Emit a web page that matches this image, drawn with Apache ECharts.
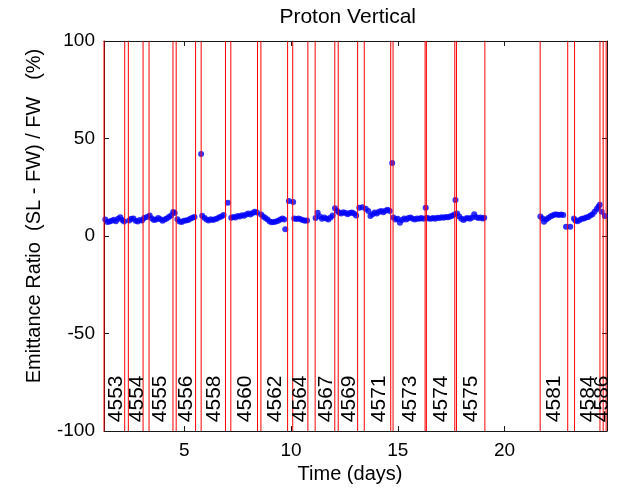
<!DOCTYPE html>
<html>
<head>
<meta charset="utf-8">
<script src="https://cdn.jsdelivr.net/npm/echarts@6/dist/echarts.min.js"></script>
<style>
html,body{margin:0;padding:0;background:#fff;}
#chart{width:617px;height:491px;}
</style>
</head>
<body>
<div id="chart"></div>
<script>
// ---- data ----
const timeDays = [
  1.30,1.40,1.50,1.60,1.70,1.80,1.90,2.00,2.10,2.18,
  2.42,2.52,2.62,2.72,2.82,2.92,3.02,3.12,3.25,
  3.38,3.48,3.58,3.68,3.78,3.88,3.98,4.08,4.18,4.28,4.38,4.48,4.55,
  4.68,4.78,4.88,4.98,5.08,5.18,5.28,5.38,5.48,
  5.79,5.84,5.94,6.04,6.14,6.24,6.34,6.44,6.54,6.64,6.74,6.84,7.04,
  7.20,7.30,7.40,7.50,7.60,7.70,7.80,7.90,8.00,8.10,8.20,8.30,8.40,
  8.60,8.70,8.80,8.90,9.00,9.10,9.20,9.30,9.40,9.50,9.60,9.68,9.73,9.90,10.10,
  10.15,10.25,10.35,10.45,10.55,10.65,10.75,
  11.15,11.25,11.35,11.45,11.55,11.65,11.75,11.85,11.95,12.06,
  12.15,12.25,12.35,12.45,12.55,12.65,12.75,12.85,12.95,13.05,
  13.20,13.35,13.50,13.62,13.72,13.82,13.92,14.02,14.12,14.22,14.32,14.42,14.52,14.62,14.74,
  14.80,14.90,15.00,15.10,15.20,15.30,15.40,15.50,15.60,15.70,15.80,15.90,16.00,16.10,16.20,16.31,
  16.36,16.45,16.55,16.65,16.75,16.85,16.95,17.05,17.15,17.25,17.35,17.45,17.55,17.65,17.70,
  17.78,17.88,17.98,18.08,18.18,18.28,18.38,18.48,18.58,18.68,18.78,18.88,18.98,19.05,
  21.68,21.78,21.85,21.95,22.05,22.15,22.25,22.35,22.45,22.55,22.65,22.75,22.88,23.08,
  23.25,23.32,23.42,23.52,23.62,23.72,23.82,23.92,24.02,24.12,24.22,24.32,24.40,24.46,24.55,24.70
];
const ratioPct = [
  8.5,7.2,7.5,7.8,8.3,7.6,8.8,9.6,8.2,7.4,
  8.0,8.8,9.0,7.8,7.5,8.2,8.0,9.2,9.8,
  10.5,9.0,8.2,8.5,9.2,8.6,7.8,8.4,9.0,9.8,10.5,12.3,11.8,
  8.6,7.5,7.2,7.8,8.0,8.2,8.8,9.4,9.8,
  42.0,10.4,9.3,8.5,8.0,8.6,8.2,8.6,9.0,9.6,10.0,10.8,17.0,
  9.3,9.8,9.5,10.2,10.0,10.6,10.4,11.0,11.5,11.0,11.8,12.5,12.0,
  11.0,10.0,9.2,8.4,7.5,7.0,7.2,7.4,7.8,8.5,9.0,8.5,3.4,18.0,17.4,
  9.0,8.7,9.0,8.6,8.2,7.8,8.0,
  9.2,11.9,10.0,8.8,9.5,9.0,8.5,9.5,10.5,14.2,
  13.0,12.0,11.5,12.2,11.8,11.2,11.8,12.0,11.5,10.5,
  14.5,14.8,14.0,12.8,10.2,11.2,12.0,11.5,12.4,12.8,12.2,13.0,13.5,12.8,37.4,
  9.5,8.5,8.8,6.8,8.2,9.0,8.4,9.2,9.5,8.8,8.5,9.0,8.8,9.2,8.9,14.5,
  9.3,9.0,8.8,9.2,8.9,9.4,9.2,9.6,9.4,9.8,9.6,10.0,10.4,11.0,18.4,
  11.5,10.0,8.8,8.2,9.0,9.2,8.8,9.5,11.2,9.6,9.2,9.5,9.0,9.3,
  10.0,9.0,7.3,8.5,9.2,10.0,10.5,11.0,11.0,10.8,11.0,10.8,4.8,4.8,
  9.0,8.0,7.6,8.2,8.8,9.0,9.5,9.8,10.5,11.2,12.5,13.8,15.0,16.0,12.5,10.2
];
// fill boundary times (days) - red vertical lines
const fillEdges = [1.24,2.21,2.38,3.07,3.35,4.47,4.62,5.53,5.79,6.93,7.18,8.43,8.59,9.84,
  10.08,10.79,11.13,12.05,12.21,13.12,13.43,14.67,14.78,16.28,16.34,17.67,17.75,19.08,
  21.67,22.96,23.28,24.47,24.62,24.76];
// fill numbers and where their labels sit (days)
const fillNumbers = [4553,4554,4555,4556,4558,4560,4562,4564,4567,4569,4571,4573,4574,4575,4581,4584,4586];
const labelDays   = [1.80,2.78,3.89,5.08,6.39,7.84,9.28,10.45,11.64,12.71,14.13,15.58,17.05,18.43,22.34,23.92,24.56];
const xTicks = [5,10,15,20];
const xMin = 1.24, xMax = 24.8;
const yMin = -100, yMax = 100, yStep = 50;

const FONT = '"Liberation Sans", Arial, Helvetica, sans-serif';
const chart = echarts.init(document.getElementById('chart'), null, {renderer:'canvas'});
const axisLineStyle = {color:'#1a1a1a', width:1};
const option = {
  animation:false,
  backgroundColor:'#ffffff',
  grid:{left:104, right:10, top:41, bottom:60},
  xAxis:[
    {type:'value', min:xMin, max:xMax, position:'bottom',
     axisLine:{show:true, onZero:false, lineStyle:axisLineStyle},
     axisTick:{show:true, inside:true, length:5, customValues:xTicks, lineStyle:axisLineStyle},
     axisLabel:{show:true, customValues:xTicks, color:'#000', fontFamily:FONT, fontSize:19, margin:10},
     splitLine:{show:false}},
    {type:'value', min:xMin, max:xMax, position:'top',
     axisLine:{show:true, onZero:false, lineStyle:axisLineStyle},
     axisTick:{show:true, inside:true, length:5, customValues:xTicks, lineStyle:axisLineStyle},
     axisLabel:{show:false}, splitLine:{show:false}}
  ],
  yAxis:[
    {type:'value', min:yMin, max:yMax, interval:yStep, position:'left',
     axisLine:{show:true, onZero:false, lineStyle:axisLineStyle},
     axisTick:{show:true, inside:true, length:5, lineStyle:axisLineStyle},
     axisLabel:{color:'#000', fontFamily:FONT, fontSize:19, margin:9},
     splitLine:{show:false}},
    {type:'value', min:yMin, max:yMax, interval:yStep, position:'right',
     axisLine:{show:true, onZero:false, lineStyle:axisLineStyle},
     axisTick:{show:true, inside:true, length:5, lineStyle:axisLineStyle},
     axisLabel:{show:false}, splitLine:{show:false}}
  ],
  series:[
    {type:'scatter', xAxisIndex:0, yAxisIndex:0, symbol:'circle', symbolSize:6,
     itemStyle:{color:'#0000ff'}, z:2, silent:true,
     data: timeDays.map((d,i)=>[d, ratioPct[i]])},
    {type:'custom', xAxisIndex:0, yAxisIndex:0, z:3, silent:true,
     data: fillEdges.map(d=>[d, 0]),
     renderItem:function(params, api){
       const top = api.coord([api.value(0), yMax]);
       const bot = api.coord([api.value(0), yMin]);
       return {type:'line', shape:{x1:top[0], y1:top[1], x2:bot[0], y2:bot[1]},
         style:{stroke:'#ff0000', lineWidth:1}};
     }},
    {type:'custom', xAxisIndex:0, yAxisIndex:0, z:4, silent:true,
     data: labelDays.map((d,i)=>[d, fillNumbers[i]]),
     renderItem:function(params, api){
       const p = api.coord([api.value(0), -83.5]);
       return {type:'text', x:p[0], y:p[1], rotation:Math.PI/2,
         style:{text:String(api.value(1)), fill:'#000', font:'21px '+FONT,
                align:'center', verticalAlign:'middle'}};
     }}
  ],
  graphic:[
    {type:'text', x:347.7, y:17.5, style:{text:'Proton Vertical', fill:'#000', font:'21px '+FONT, align:'center', verticalAlign:'middle'}},
    {type:'text', x:350, y:474, style:{text:'Time (days)', fill:'#000', font:'20px '+FONT, align:'center', verticalAlign:'middle'}},
    {type:'text', x:34, y:216, rotation:Math.PI/2, style:{text:'Emittance Ratio  (SL - FW) / FW   (%)', fill:'#000', font:'20px '+FONT, align:'center', verticalAlign:'middle'}}
  ]
};
chart.setOption(option);
</script>
</body>
</html>
